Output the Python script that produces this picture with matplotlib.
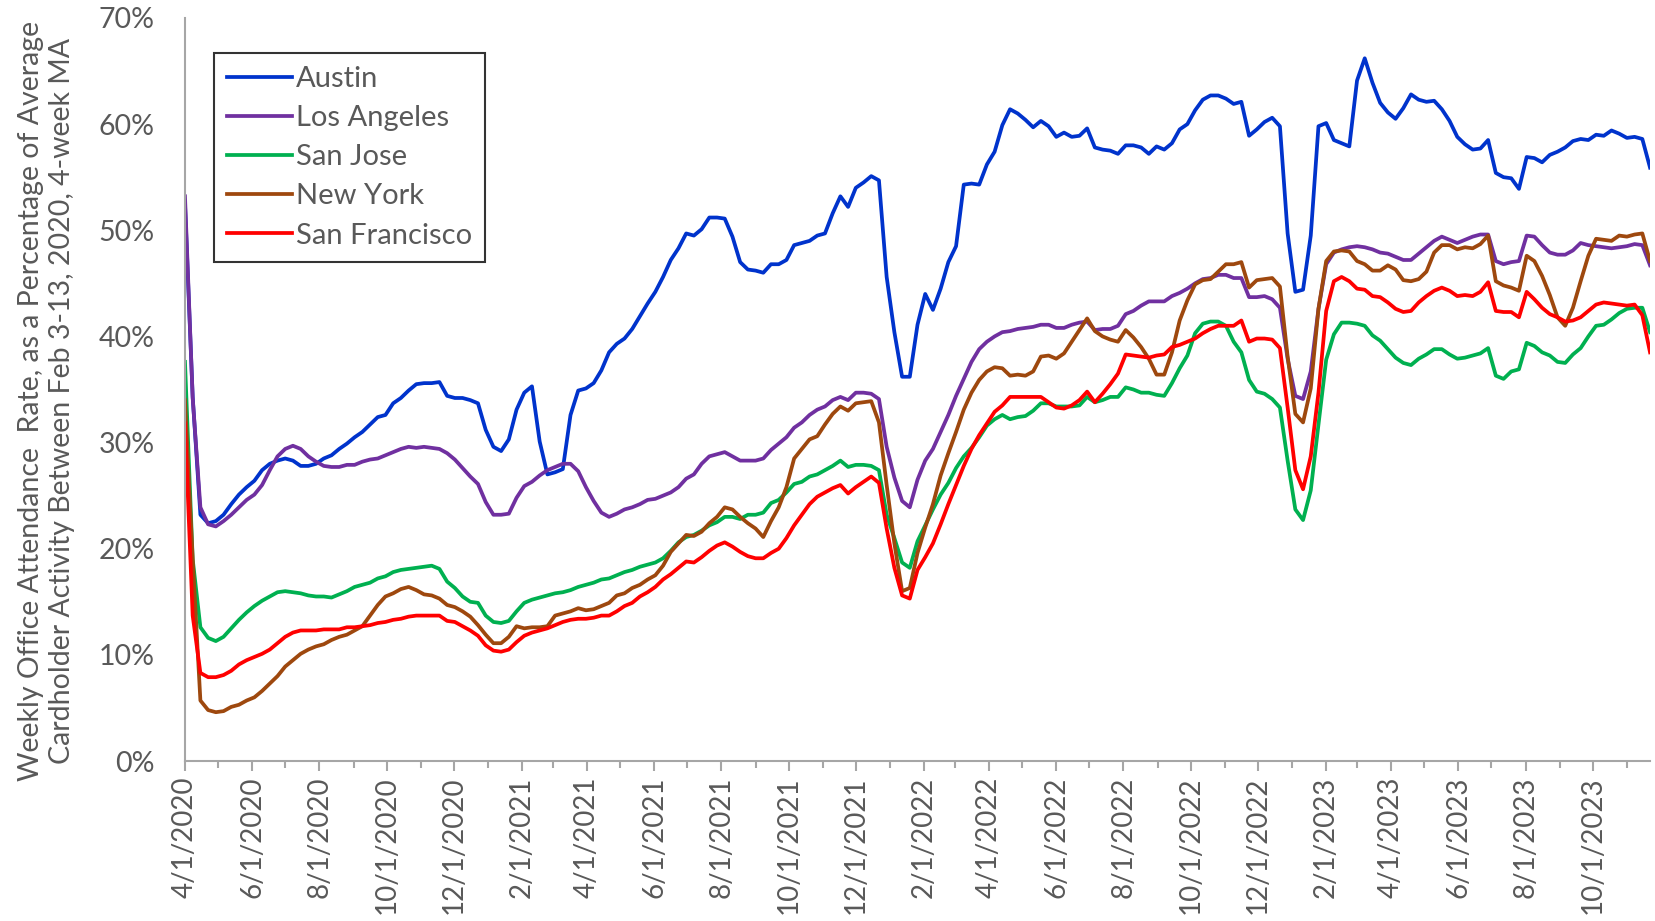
"""
Weekly office attendance by city (4-week MA), relative to Feb 3-13, 2020 baseline.
Recreates the Excel-style line chart and writes out.png.
"""

import matplotlib

matplotlib.use("Agg")
import matplotlib.dates as mdates
import matplotlib.pyplot as plt
import pandas as pd
from matplotlib.ticker import FuncFormatter, MultipleLocator, PercentFormatter

plt.rcParams["font.family"] = ["Lato", "DejaVu Sans"]

TEXT_GREY = "#595959"
AXIS_GREY = "#A6A6A6"

# weekly observations, first week starting 4/1/2020
START_DATE = "2020-04-01"

austin = [
    52.5, 34.3, 23.2, 22.4, 22.6, 23.2, 24.2, 25.1, 25.8, 26.4,
    27.4, 28.0, 28.3, 28.5, 28.3, 27.8, 27.8, 28.0, 28.5, 28.8,
    29.4, 29.9, 30.5, 31.0, 31.7, 32.4, 32.6, 33.7, 34.2, 34.9,
    35.5, 35.6, 35.6, 35.7, 34.4, 34.2, 34.2, 34.0, 33.7, 31.2,
    29.6, 29.2, 30.3, 33.1, 34.7, 35.3, 30.1, 27.0, 27.2, 27.5,
    32.6, 34.9, 35.1, 35.6, 36.8, 38.5, 39.3, 39.8, 40.7, 41.9,
    43.1, 44.2, 45.6, 47.2, 48.3, 49.7, 49.5, 50.1, 51.2, 51.2,
    51.1, 49.4, 47.0, 46.3, 46.2, 46.0, 46.8, 46.8, 47.2, 48.6,
    48.8, 49.0, 49.5, 49.7, 51.6, 53.2, 52.2, 54.0, 54.5, 55.1,
    54.7, 45.6, 40.4, 36.2, 36.2, 41.1, 44.0, 42.5, 44.5, 47.0,
    48.5, 54.3, 54.4, 54.3, 56.2, 57.4, 59.9, 61.4, 61.0, 60.4,
    59.7, 60.3, 59.8, 58.8, 59.2, 58.8, 58.9, 59.6, 57.8, 57.6,
    57.5, 57.2, 58.0, 58.0, 57.8, 57.2, 57.9, 57.6, 58.2, 59.5,
    60.0, 61.3, 62.3, 62.7, 62.7, 62.4, 61.9, 62.1, 58.9, 59.5,
    60.2, 60.6, 59.8, 49.7, 44.2, 44.4, 49.5, 59.8, 60.1, 58.5,
    58.2, 57.9, 64.1, 66.2, 63.9, 62.0, 61.1, 60.5, 61.5, 62.8,
    62.3, 62.1, 62.2, 61.4, 60.3, 58.8, 58.1, 57.6, 57.7, 58.5,
    55.4, 55.0, 54.9, 53.9, 56.9, 56.8, 56.4, 57.1, 57.4, 57.8,
    58.4, 58.6, 58.5, 59.0, 58.9, 59.4, 59.1, 58.7, 58.8, 58.6,
    55.9,
]

los_angeles = [
    53.2, 34.2, 23.9, 22.3, 22.1, 22.6, 23.2, 23.9, 24.6, 25.1,
    26.0, 27.4, 28.7, 29.4, 29.7, 29.4, 28.7, 28.2, 27.8, 27.7,
    27.7, 27.9, 27.9, 28.2, 28.4, 28.5, 28.8, 29.1, 29.4, 29.6,
    29.5, 29.6, 29.5, 29.4, 29.0, 28.4, 27.6, 26.8, 26.1, 24.4,
    23.2, 23.2, 23.3, 24.8, 25.9, 26.3, 26.9, 27.4, 27.7, 28.0,
    28.0, 27.3, 25.8, 24.5, 23.4, 23.0, 23.3, 23.7, 23.9, 24.2,
    24.6, 24.7, 25.0, 25.3, 25.8, 26.6, 27.0, 28.0, 28.7, 28.9,
    29.1, 28.7, 28.3, 28.3, 28.3, 28.5, 29.3, 29.9, 30.5, 31.4,
    31.9, 32.6, 33.1, 33.4, 34.0, 34.3, 34.0, 34.7, 34.7, 34.6,
    34.1, 29.6, 26.7, 24.5, 23.9, 26.5, 28.3, 29.4, 31.0, 32.6,
    34.4, 36.0, 37.6, 38.8, 39.5, 40.0, 40.4, 40.5, 40.7, 40.8,
    40.9, 41.1, 41.1, 40.8, 40.8, 41.1, 41.3, 41.4, 40.6, 40.7,
    40.7, 41.0, 42.1, 42.4, 42.9, 43.3, 43.3, 43.3, 43.8, 44.1,
    44.5, 45.0, 45.4, 45.5, 45.8, 45.8, 45.5, 45.5, 43.7, 43.7,
    43.8, 43.5, 42.7, 37.9, 34.4, 34.1, 36.7, 42.6, 46.8, 47.9,
    48.2, 48.4, 48.5, 48.4, 48.2, 47.9, 47.8, 47.5, 47.2, 47.2,
    47.8, 48.4, 49.0, 49.4, 49.1, 48.8, 49.1, 49.4, 49.6, 49.6,
    47.1, 46.8, 47.0, 47.1, 49.5, 49.4, 48.6, 47.9, 47.7, 47.7,
    48.1, 48.8, 48.6, 48.5, 48.4, 48.3, 48.4, 48.5, 48.7, 48.6,
    46.7,
]

san_jose = [
    37.6, 19.0, 12.6, 11.6, 11.3, 11.7, 12.5, 13.3, 14.0, 14.6,
    15.1, 15.5, 15.9, 16.0, 15.9, 15.8, 15.6, 15.5, 15.5, 15.4,
    15.7, 16.0, 16.4, 16.6, 16.8, 17.2, 17.4, 17.8, 18.0, 18.1,
    18.2, 18.3, 18.4, 18.1, 16.9, 16.3, 15.5, 15.0, 14.9, 13.7,
    13.1, 13.0, 13.2, 14.1, 14.9, 15.2, 15.4, 15.6, 15.8, 15.9,
    16.1, 16.4, 16.6, 16.8, 17.1, 17.2, 17.5, 17.8, 18.0, 18.3,
    18.5, 18.7, 19.1, 19.8, 20.6, 21.1, 21.3, 21.7, 22.2, 22.5,
    23.0, 23.0, 22.8, 23.2, 23.2, 23.4, 24.3, 24.6, 25.3, 26.1,
    26.3, 26.8, 27.0, 27.4, 27.8, 28.3, 27.7, 27.9, 27.9, 27.8,
    27.4, 23.2, 21.0, 18.7, 18.2, 20.7, 22.2, 23.7, 25.1, 26.2,
    27.6, 28.7, 29.5, 30.5, 31.6, 32.2, 32.6, 32.2, 32.4, 32.5,
    33.0, 33.7, 33.7, 33.4, 33.4, 33.4, 33.5, 34.3, 33.8, 34.0,
    34.3, 34.3, 35.2, 35.0, 34.7, 34.7, 34.5, 34.4, 35.6, 37.0,
    38.2, 40.3, 41.2, 41.4, 41.4, 41.0, 39.5, 38.5, 35.9, 34.8,
    34.6, 34.1, 33.3, 28.3, 23.7, 22.7, 25.5, 31.7, 37.8, 40.2,
    41.3, 41.3, 41.2, 41.0, 40.1, 39.6, 38.8, 38.0, 37.5, 37.3,
    37.9, 38.3, 38.8, 38.8, 38.3, 37.9, 38.0, 38.2, 38.4, 38.9,
    36.3, 36.0, 36.7, 36.9, 39.4, 39.1, 38.5, 38.2, 37.6, 37.5,
    38.3, 38.9, 40.0, 41.0, 41.1, 41.6, 42.2, 42.6, 42.7, 42.7,
    40.4,
]

new_york = [
    34.0, 19.0, 5.7, 4.8, 4.6, 4.7, 5.1, 5.3, 5.7, 6.0,
    6.6, 7.3, 8.0, 8.9, 9.5, 10.1, 10.5, 10.8, 11.0, 11.4,
    11.7, 11.9, 12.3, 12.7, 13.7, 14.7, 15.5, 15.8, 16.2, 16.4,
    16.1, 15.7, 15.6, 15.3, 14.7, 14.5, 14.1, 13.6, 12.8, 11.9,
    11.1, 11.1, 11.7, 12.7, 12.5, 12.6, 12.6, 12.7, 13.7, 13.9,
    14.1, 14.4, 14.2, 14.3, 14.6, 14.9, 15.6, 15.8, 16.3, 16.6,
    17.1, 17.5, 18.4, 19.7, 20.5, 21.3, 21.2, 21.6, 22.4, 23.0,
    23.9, 23.7, 23.0, 22.4, 21.9, 21.1, 22.6, 23.9, 25.8, 28.5,
    29.4, 30.3, 30.6, 31.7, 32.7, 33.4, 33.0, 33.7, 33.8, 33.9,
    31.9, 26.0, 20.5, 16.0, 16.3, 19.6, 22.0, 24.2, 26.9, 29.0,
    31.0, 33.1, 34.7, 35.9, 36.7, 37.1, 37.0, 36.3, 36.4, 36.3,
    36.7, 38.1, 38.2, 37.9, 38.4, 39.5, 40.6, 41.7, 40.5, 40.0,
    39.7, 39.5, 40.6, 39.9, 39.0, 37.9, 36.4, 36.4, 38.5, 41.5,
    43.4, 44.9, 45.3, 45.4, 46.1, 46.8, 46.8, 47.0, 44.6, 45.3,
    45.4, 45.5, 44.7, 38.1, 32.7, 31.9, 35.1, 42.6, 47.1, 48.0,
    48.1, 48.0, 47.1, 46.8, 46.2, 46.2, 46.7, 46.3, 45.3, 45.2,
    45.4, 46.1, 47.9, 48.6, 48.6, 48.2, 48.4, 48.3, 48.7, 49.5,
    45.2, 44.8, 44.6, 44.3, 47.6, 47.1, 45.7, 43.9, 41.8, 41.0,
    42.7, 45.2, 47.6, 49.2, 49.1, 49.0, 49.5, 49.4, 49.6, 49.7,
    47.1,
]

san_francisco = [
    31.8, 13.7, 8.3, 7.9, 7.9, 8.1, 8.5, 9.1, 9.5, 9.8,
    10.1, 10.5, 11.1, 11.7, 12.1, 12.3, 12.3, 12.3, 12.4, 12.4,
    12.4, 12.6, 12.6, 12.7, 12.8, 13.0, 13.1, 13.3, 13.4, 13.6,
    13.7, 13.7, 13.7, 13.7, 13.2, 13.1, 12.7, 12.3, 11.8, 10.9,
    10.4, 10.3, 10.5, 11.2, 11.8, 12.1, 12.3, 12.5, 12.8, 13.1,
    13.3, 13.4, 13.4, 13.5, 13.7, 13.7, 14.1, 14.6, 14.9, 15.5,
    15.9, 16.4, 17.1, 17.6, 18.2, 18.8, 18.7, 19.2, 19.8, 20.3,
    20.6, 20.2, 19.7, 19.3, 19.1, 19.1, 19.6, 20.0, 21.0, 22.2,
    23.2, 24.2, 24.9, 25.3, 25.7, 26.0, 25.2, 25.8, 26.3, 26.8,
    26.2, 21.9, 18.2, 15.6, 15.3, 18.0, 19.2, 20.5, 22.3, 24.2,
    26.0, 27.8, 29.4, 30.7, 31.8, 32.9, 33.5, 34.3, 34.3, 34.3,
    34.3, 34.3, 33.8, 33.3, 33.2, 33.5, 34.0, 34.8, 33.8, 34.6,
    35.5, 36.5, 38.3, 38.2, 38.1, 38.0, 38.2, 38.3, 39.0, 39.2,
    39.5, 39.8, 40.3, 40.7, 41.0, 41.0, 41.0, 41.5, 39.5, 39.8,
    39.8, 39.7, 38.9, 33.3, 27.4, 25.6, 28.7, 34.7, 42.4, 45.2,
    45.6, 45.2, 44.5, 44.4, 43.8, 43.7, 43.2, 42.6, 42.3, 42.4,
    43.2, 43.8, 44.3, 44.6, 44.3, 43.8, 43.9, 43.8, 44.2, 45.1,
    42.4, 42.3, 42.3, 41.8, 44.2, 43.5, 42.7, 42.1, 41.8, 41.4,
    41.5, 41.8, 42.4, 43.0, 43.2, 43.1, 43.0, 42.9, 43.0, 42.0,
    38.5,
]

SERIES = [
    ("Austin", austin, "#0033CC"),
    ("Los Angeles", los_angeles, "#7030A0"),
    ("San Jose", san_jose, "#00B050"),
    ("New York", new_york, "#9E480E"),
    ("San Francisco", san_francisco, "#FF0000"),
]


def date_label(value, _pos):
    d = mdates.num2date(value)
    return f"{d.month}/{d.day}/{d.year}"


def main() -> int:
    dates = pd.date_range(START_DATE, periods=len(austin), freq="7D")

    fig = plt.figure(figsize=(16.56, 9.21), dpi=100)
    ax = fig.add_axes([0.1117, 0.1737, 0.8847, 0.8068])

    for name, values, color in SERIES:
        ax.plot(dates, values, color=color, linewidth=2.7, label=name,
                solid_joinstyle="round")

    ax.set_xlim(dates[0], dates[-1])
    ax.set_ylim(0, 70)
    ax.yaxis.set_major_locator(MultipleLocator(10))
    ax.yaxis.set_major_formatter(PercentFormatter(100, decimals=0))

    ax.xaxis.set_major_locator(mdates.MonthLocator(bymonth=(2, 4, 6, 8, 10, 12)))
    ax.xaxis.set_minor_locator(mdates.MonthLocator(bymonth=(1, 3, 5, 7, 9, 11)))
    ax.xaxis.set_major_formatter(FuncFormatter(date_label))

    for side in ("top", "right"):
        ax.spines[side].set_visible(False)
    for side in ("left", "bottom"):
        ax.spines[side].set_color(AXIS_GREY)
        ax.spines[side].set_linewidth(1.5)

    ax.tick_params(axis="y", length=0, pad=22, labelsize=20.5, labelcolor=TEXT_GREY)
    ax.tick_params(axis="x", which="major", length=7, width=1.5, color=AXIS_GREY,
                   pad=4, labelsize=20, labelcolor=TEXT_GREY, labelrotation=90)
    ax.tick_params(axis="x", which="minor", length=5, width=1.5, color=AXIS_GREY)

    fig.text(0.028, 0.565,
             "Weekly Office Attendance  Rate, as a Percentage of Average\n"
             "Cardholder Activity Between Feb 3-13, 2020, 4-week MA",
             rotation=90, ha="center", va="center", fontsize=20.5,
             color=TEXT_GREY, linespacing=1.25)

    leg = ax.legend(loc="upper left", bbox_to_anchor=(0.02, 0.953), fontsize=21,
                    frameon=True, fancybox=False, handlelength=2.2,
                    handletextpad=0.15, labelspacing=0.45, borderpad=0.45,
                    borderaxespad=0)
    leg.get_frame().set_edgecolor("black")
    leg.get_frame().set_linewidth(1.5)
    for text in leg.get_texts():
        text.set_color(TEXT_GREY)

    fig.savefig("out.png", dpi=100)
    plt.close(fig)
    return 0


if __name__ == "__main__":
    raise SystemExit(main())
